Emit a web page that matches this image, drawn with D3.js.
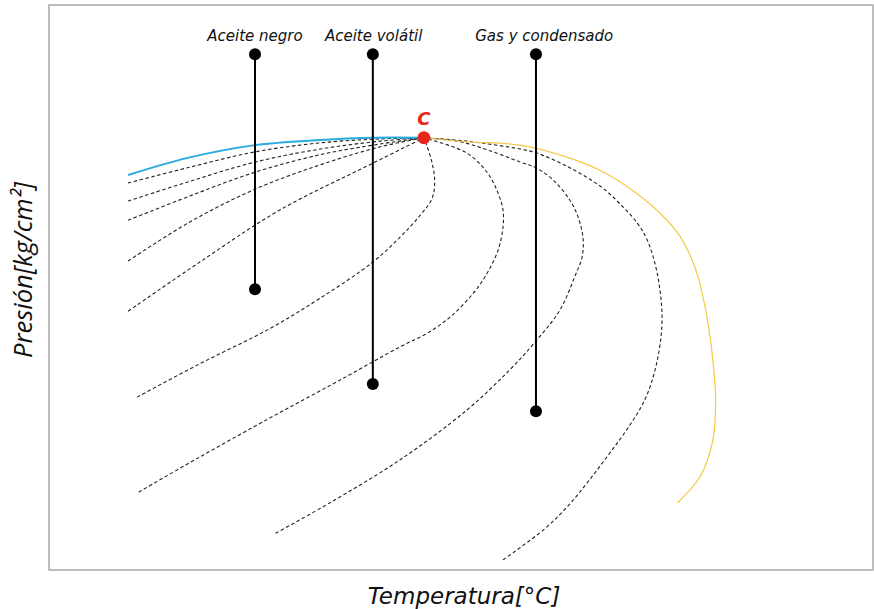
<!DOCTYPE html>
<html>
<head>
<meta charset="utf-8">
<script src="https://cdn.jsdelivr.net/npm/d3@7"></script>
<style>
  body { margin: 0; background: #fff; }
  svg text { font-family: "DejaVu Sans", Verdana, sans-serif; font-style: italic; }
</style>
</head>
<body>
<div id="chart"></div>
<script>
// phase envelope, arbitrary units (temperature 0-100, pressure 0-100)
var critical = { T: 45.5, P: 76.5 }

// bubble point curve (blue)
var bubbleT = [9.6, 16.7, 25.0, 32.9, 39.3, 45.5]
var bubbleP = [69.9, 72.9, 75.2, 76.1, 76.5, 76.5]

// dew point curve (yellow)
var dewT = [45.5, 50.7, 57.2, 63.2, 67.2, 71.3, 74.2, 76.6, 78.5, 79.7, 80.5, 80.9, 80.5, 79.0, 76.3]
var dewP = [76.5, 75.8, 75.2, 72.9, 70.5, 66.7, 63.1, 59.0, 53.1, 46.0, 38.0, 30.0, 22.5, 16.5, 11.9]

// quality lines (dashed)
var qualityT = [
  [9.6, 17.1, 25.0, 32.9, 40.2, 45.5],
  [9.6, 17.1, 25.0, 32.9, 40.2, 45.5],
  [9.6, 17.1, 25.0, 32.9, 40.2, 45.5],
  [9.6, 17.1, 25.0, 32.9, 40.2, 45.5],
  [9.6, 18.3, 28.0, 39.3, 45.5],
  [10.7, 18.3, 26.5, 32.9, 39.3, 42.6, 45.0, 46.5, 46.8, 46.4, 45.5],
  [10.9, 18.3, 26.8, 35.3, 42.6, 45.9, 48.7, 51.5, 53.2, 54.5, 55.1, 55.1, 54.5, 53.2, 50.7, 45.5],
  [27.5, 34.1, 42.6, 50.7, 55.9, 59.2, 62.0, 63.8, 64.7, 64.8, 64.2, 63.2, 61.2, 59.2, 57.2, 53.5, 49.9, 45.5],
  [55.1, 60.0, 62.9, 65.3, 67.7, 70.1, 72.3, 73.7, 74.4, 73.8, 72.6, 71.4, 69.7, 67.2, 63.2, 59.2, 57.2, 50.7, 45.5]
]
var qualityP = [
  [68.5, 71.3, 74.0, 75.6, 76.3, 76.5],
  [65.3, 68.8, 72.2, 74.5, 75.9, 76.5],
  [61.9, 66.2, 70.4, 73.5, 75.4, 76.5],
  [54.7, 61.6, 67.4, 71.7, 74.9, 76.5],
  [45.8, 54.5, 63.7, 72.0, 76.5],
  [30.6, 36.5, 42.5, 48.1, 54.5, 58.9, 62.7, 65.8, 69.0, 72.6, 76.5],
  [13.8, 20.0, 26.9, 33.6, 39.5, 41.9, 44.8, 49.0, 52.6, 56.6, 60.7, 63.7, 66.7, 70.3, 73.8, 76.5],
  [6.5, 11.9, 19.5, 28.3, 35.4, 40.7, 46.0, 51.9, 55.4, 58.9, 62.5, 65.5, 69.0, 71.1, 72.2, 74.2, 75.8, 76.5],
  [1.8, 7.1, 11.2, 15.4, 20.0, 24.8, 30.1, 36.3, 44.2, 52.6, 58.4, 61.4, 64.2, 67.6, 71.2, 73.8, 74.5, 75.9, 76.5]
]

// fluid types (vertical paths)
var fluidNames = ["Aceite negro", "Aceite volátil", "Gas y condensado"]
var fluidT = [25.0, 39.3, 59.1]
var fluidTop = [91.3, 91.3, 91.3]
var fluidBottom = [49.7, 32.9, 28.1]
var labelShift = [0, 0.1, 1.0]

var W = 874, H = 609
var margin = { top: 5, right: 1, bottom: 39, left: 49 }

var svg = d3.select("#chart").append("svg")
    .attr("width", W)
    .attr("height", H)

var x = d3.scaleLinear().domain([0, 100]).range([margin.left, W - margin.right])
var y = d3.scaleLinear().domain([0, 100]).range([H - margin.bottom, margin.top])

// frame
svg.append("rect")
    .attr("x", margin.left)
    .attr("y", margin.top)
    .attr("width", W - margin.left - margin.right)
    .attr("height", H - margin.top - margin.bottom)
    .attr("fill", "none")
    .attr("stroke", "#a8a8a8")
    .attr("stroke-width", 1.5)

var line = d3.line()
    .x(d => x(d[0]))
    .y(d => y(d[1]))
    .curve(d3.curveCatmullRom.alpha(0.5))

var zip = (a, b) => a.map((v, i) => [v, b[i]])

// dashed quality lines
svg.selectAll(".quality")
    .data(qualityT.map((t, i) => zip(t, qualityP[i])))
    .enter().append("path")
    .attr("class", "quality")
    .attr("d", line)
    .attr("fill", "none")
    .attr("stroke", "#222")
    .attr("stroke-width", 1.1)
    .attr("stroke-dasharray", "3.5,2.5")

// dew point curve
svg.append("path")
    .attr("d", line(zip(dewT, dewP)))
    .attr("fill", "none")
    .attr("stroke", "#f6c945")
    .attr("stroke-width", 1.2)

// bubble point curve
svg.append("path")
    .attr("d", line(zip(bubbleT, bubbleP)))
    .attr("fill", "none")
    .attr("stroke", "#2aaae0")
    .attr("stroke-width", 2)

// fluid vertical lines
var fluids = svg.selectAll(".fluid")
    .data(fluidNames.map((n, i) => ({ name: n, T: fluidT[i], top: fluidTop[i], bottom: fluidBottom[i], shift: labelShift[i] })))
    .enter().append("g")
    .attr("class", "fluid")

fluids.append("line")
    .attr("x1", d => x(d.T)).attr("x2", d => x(d.T))
    .attr("y1", d => y(d.top)).attr("y2", d => y(d.bottom))
    .attr("stroke", "#000")
    .attr("stroke-width", 2)
fluids.append("circle")
    .attr("cx", d => x(d.T)).attr("cy", d => y(d.top)).attr("r", 6)
fluids.append("circle")
    .attr("cx", d => x(d.T)).attr("cy", d => y(d.bottom)).attr("r", 6)
fluids.append("text")
    .attr("x", d => x(d.T + d.shift))
    .attr("y", d => y(d.top) - 13)
    .attr("text-anchor", "middle")
    .style("font-size", "15px")
    .attr("fill", "#111")
    .text(d => d.name)

// critical point
svg.append("circle")
    .attr("cx", x(critical.T))
    .attr("cy", y(critical.P))
    .attr("r", 6.5)
    .attr("fill", "#e8261b")
svg.append("text")
    .attr("x", x(critical.T))
    .attr("y", y(critical.P) - 13)
    .attr("text-anchor", "middle")
    .style("font-size", "18px")
    .style("font-weight", "bold")
    .attr("fill", "#e8261b")
    .text("C")

// axis titles
svg.append("text")
    .attr("x", 464)
    .attr("y", 604)
    .attr("text-anchor", "middle")
    .style("font-size", "23px")
    .attr("fill", "#111")
    .text("Temperatura[°C]")
svg.append("text")
    .attr("transform", "translate(32,270) rotate(-90)")
    .attr("text-anchor", "middle")
    .style("font-family", "'Open Sans', sans-serif")
    .style("font-size", "25.5px")
    .attr("fill", "#111")
    .text("Presión[kg/cm²]")
</script>
</body>
</html>
